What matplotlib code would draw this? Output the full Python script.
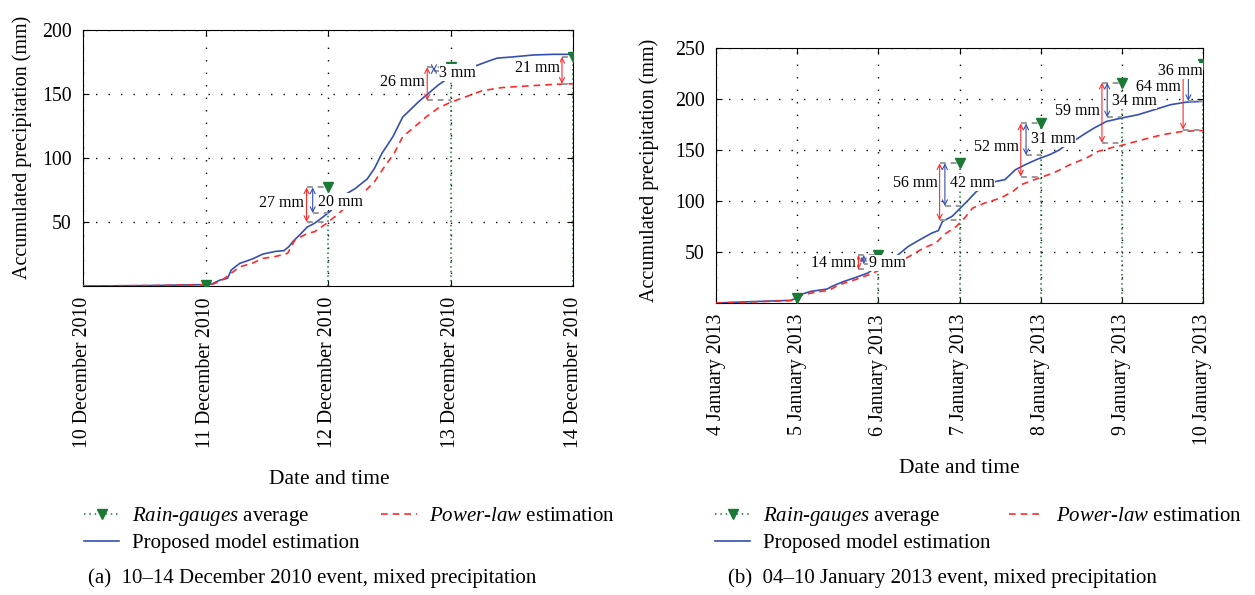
import numpy as np
import matplotlib.pyplot as plt
from matplotlib.lines import Line2D

plt.rcParams['font.family'] = 'Liberation Serif'
plt.rcParams['mathtext.fontset'] = 'custom'
plt.rcParams['mathtext.rm'] = 'Liberation Serif'
plt.rcParams['mathtext.it'] = 'Liberation Serif:italic'

# ---- (a) 10-14 December 2010 (x = days since 10 Dec) ----
ticks_a = ['10 December 2010', '11 December 2010', '12 December 2010',
           '13 December 2010', '14 December 2010']
t_pm_a = [0, 0.5, 0.95, 1.05, 1.12, 1.18, 1.21, 1.28, 1.38, 1.47, 1.57, 1.64, 1.68, 1.72,
          1.77, 1.83, 1.89, 1.96, 2.02, 2.08, 2.15, 2.22, 2.32, 2.38, 2.44, 2.53, 2.61,
          2.67, 2.74, 2.82, 2.90, 2.96, 3.0, 3.06, 3.19, 3.29, 3.38, 3.51, 3.68, 3.84, 4.0]
pm_a = [0, 0.3, 1, 1.5, 4.7, 6, 12.5, 17.7, 21, 25, 27, 27.6, 30.7, 35.4,
        40, 46, 49, 54, 58.5, 65, 72, 76, 83.6, 92, 103.6, 116.7, 132,
        137.5, 144, 150.5, 157, 161, 166, 170, 171.4, 175, 178, 179, 180.5, 181, 181]
t_pl_a = [0, 0.5, 0.95, 1.05, 1.12, 1.21, 1.28, 1.38, 1.47, 1.57, 1.67, 1.73, 1.83, 1.89,
          1.99, 2.09, 2.19, 2.28, 2.38, 2.46, 2.54, 2.61, 2.69, 2.80, 2.90, 3.0, 3.13,
          3.26, 3.42, 3.58, 3.84, 4.0]
pl_a = [0, 0.3, 0.8, 1.2, 3.5, 10, 15, 17.7, 21.6, 23, 25.5, 36, 41, 42.4,
        49, 56.8, 66, 72, 81.5, 93, 103.6, 116.7, 123, 132, 139, 143.5, 148,
        152.6, 155, 156, 157.5, 158]
gauge_days_a = [1, 2, 3, 4]
gauge_a = [1, 77, 171, 179]
# model values at the last gauge days (for the difference arrows)
pl_day_a = [50, 145, 158]
pm_day_a = [57, 168, np.nan]

# ---- (b) 04-10 January 2013 (x = days since 4 Jan) ----
ticks_b = ['4 January 2013', '5 January 2013', '6 January 2013', '7 January 2013',
           '8 January 2013', '9 January 2013', '10 January 2013']
t_pm_b = [0, 0.32, 0.92, 1.0, 1.07, 1.17, 1.37, 1.42, 1.57, 1.72, 1.87, 1.97, 2.1, 2.22,
          2.37, 2.51, 2.66, 2.74, 2.79, 2.91, 3.01, 3.11, 3.21, 3.32, 3.44, 3.56, 3.69,
          3.81, 3.96, 4.11, 4.23, 4.31, 4.41, 4.56, 4.66, 4.81, 5.0, 5.2, 5.4, 5.6, 5.8, 6.0]
pm_b = [0, 1, 2.6, 5, 9, 11.4, 13.7, 16, 21, 25, 29.4, 35, 40, 45.8,
        55.5, 62, 68.6, 71, 80, 85, 93, 101, 109.5, 114, 119, 121, 130.7,
        135.6, 141, 145.4, 150, 155, 159, 166.7, 171.6, 178, 181.4, 184.6, 189.5, 194.4, 197, 197.7]
t_pl_b = [0, 0.5, 0.92, 1.0, 1.07, 1.22, 1.39, 1.52, 1.72, 1.92, 2.07, 2.27, 2.42, 2.56,
          2.71, 2.81, 2.96, 3.06, 3.16, 3.31, 3.51, 3.66, 3.76, 3.96, 4.16, 4.36, 4.56,
          4.71, 4.86, 5.0, 5.25, 5.5, 5.75, 6.0]
pl_b = [0, 1.2, 2.3, 5, 8, 10.5, 12.4, 18, 23, 28.8, 34.3, 40.8, 47.4, 54,
        58.8, 67, 75, 83, 93, 98, 103, 109.5, 116, 122, 127.5, 135.6, 142,
        148.7, 152, 154.6, 160, 165, 168.3, 169]
gauge_days_b = [1, 2, 3, 4, 5, 6]
gauge_b = [5, 47, 137, 176, 216, 234]
pl_day_b = [33, 81, 124, 157, 170]
pm_day_b = [38, 95, 145, 182, 198]

BLUE = '#3550b0'
RED = '#ff2a2a'
GREEN = '#1a7a35'
GRAY = '#9a9a9a'

W, H = 1255, 595
fig = plt.figure(figsize=(W / 100, H / 100), dpi=100)


def px_axes(l, t, r, b):
    return fig.add_axes([l / W, 1 - b / H, (r - l) / W, (b - t) / H])


def panel(ax, t_pm, pm, t_pl, pl, g_days, g_vals, ticks, ymax, yticks):
    ax.grid(True, color='black', linestyle=(0, (1, 8)), linewidth=1.0)
    for d, v in zip(g_days, g_vals):
        ax.plot([d, d], [0, v], color=GREEN, linestyle=(0, (1, 2)), lw=1.1, zorder=2.5)
    ax.plot(t_pm, pm, color=BLUE, lw=1.2, zorder=3)
    ax.plot(t_pl, pl, color=RED, lw=1.2, dashes=(4, 3), zorder=3.2)
    ax.plot(g_days, g_vals, 'v', color=GREEN, ms=7, zorder=4)
    ax.set_xlim(0, len(ticks) - 1)
    ax.set_ylim(0, ymax)
    ax.set_xticks(range(len(ticks)))
    ax.set_xticklabels(ticks, rotation=90)
    ax.set_yticks(yticks)
    ax.tick_params(direction='in', top=True, right=True, labelsize=14.3, length=4, pad=8)
    ax.set_ylabel('Accumulated precipitation (mm)', fontsize=14.5)
    ax.set_xlabel('Date and time', fontsize=15.5)


def diff_arrows(ax, g_days, g_vals, pl_day, pm_day, red_off, blue_off, red_ly, blue_ly,
                blue_right=()):
    n = len(pl_day)
    days = g_days[-n:]
    gv = g_vals[-n:]
    box = dict(facecolor='white', edgecolor='none', pad=0.1)
    for i in range(n):
        d, g = days[i], gv[i]
        xr = d - red_off[i]
        ax.plot([xr, d], [g, g], color=GRAY, dashes=(3, 2.5), lw=1.4, zorder=3.5)
        ax.plot([xr, d], [pl_day[i]] * 2, color=GRAY, dashes=(3, 2.5), lw=1.4, zorder=3.5)
        ax.annotate('', xy=(xr, pl_day[i]), xytext=(xr, g),
                    arrowprops=dict(arrowstyle='<->', color=RED, lw=0.8,
                                    shrinkA=0, shrinkB=0, mutation_scale=9), zorder=5)
        ax.annotate(f'{g - pl_day[i]:.0f} mm', xy=(xr, red_ly[i]), xytext=(-1.5, 0),
                    textcoords='offset points', ha='right', va='center', fontsize=11.5,
                    bbox=box, zorder=7)
        if np.isnan(pm_day[i]):
            continue
        xb = d - blue_off[i]
        ax.plot([xb, d], [pm_day[i]] * 2, color=GRAY, dashes=(3, 2.5), lw=1.4, zorder=3.5)
        ax.annotate('', xy=(xb, pm_day[i]), xytext=(xb, g),
                    arrowprops=dict(arrowstyle='<->', color=BLUE, lw=0.8,
                                    shrinkA=0, shrinkB=0, mutation_scale=9), zorder=5)
        if i in blue_right:
            ax.annotate(f'{g - pm_day[i]:.0f} mm', xy=(d, blue_ly[i]), xytext=(0, 0),
                        textcoords='offset points', ha='right', va='center',
                        fontsize=11.5, bbox=box, zorder=7)
        else:
            ax.annotate(f'{g - pm_day[i]:.0f} mm', xy=(xb, blue_ly[i]), xytext=(3.5, 0),
                        textcoords='offset points', ha='left', va='center',
                        fontsize=11.5, bbox=box, zorder=7)


ax_a = px_axes(83, 30, 573, 286)
panel(ax_a, t_pm_a, pm_a, t_pl_a, pl_a, gauge_days_a, gauge_a, ticks_a, 200, [50, 100, 150, 200])
diff_arrows(ax_a, gauge_days_a, gauge_a, pl_day_a, pm_day_a,
            [0.175, 0.19, 0.09], [0.125, 0.135, 0],
            [64.6, 159.6, 170], [66, 166.7, 0])
ax_a.yaxis.set_label_coords(-0.104, 0.54)
ax_a.xaxis.set_label_coords(0.502, -0.72)

ax_b = px_axes(716, 48, 1203, 303)
panel(ax_b, t_pm_b, pm_b, t_pl_b, pl_b, gauge_days_b, gauge_b, ticks_b, 250,
      [50, 100, 150, 200, 250])
diff_arrows(ax_b, gauge_days_b, gauge_b, pl_day_b, pm_day_b,
            [0.245] * 5, [0.18] * 5,
            [39.5, 118, 153, 188.5, 212], [39.5, 118, 160.8, 198, 227.7], blue_right=(4,))
ax_b.yaxis.set_label_coords(-0.118, 0.52)
ax_b.xaxis.set_label_coords(0.5, -0.61)


def legend_at(x, y, colsp):
    handles = [Line2D([], [], color=GREEN, ls=(0, (1, 2.5)), marker='v', ms=7, lw=1.1),
               Line2D([], [], color=BLUE, lw=1.2),
               Line2D([], [], color=RED, lw=1.2, dashes=(4, 3))]
    labels = [r'$\mathit{Rain}$-$\mathit{gauges}$ average', 'Proposed model estimation',
              r'$\mathit{Power}$-$\mathit{law}$ estimation']
    fig.legend(handles, labels, loc='upper left', bbox_to_anchor=(x / W, 1 - y / H),
               ncol=2, frameon=False, fontsize=15, handlelength=1.7, handletextpad=0.6,
               labelspacing=0.25, columnspacing=colsp, borderpad=0, borderaxespad=0)


legend_at(84, 505, 1.05)
legend_at(715, 505, 0.87)

fig.text(88 / W, 1 - 578 / H, '(a)  10\u201314 December 2010 event, mixed precipitation',
         fontsize=15, va='center')
fig.text(728 / W, 1 - 578 / H, '(b)  04\u201310 January 2013 event, mixed precipitation',
         fontsize=15, va='center')

fig.savefig('out.png', dpi=100)
